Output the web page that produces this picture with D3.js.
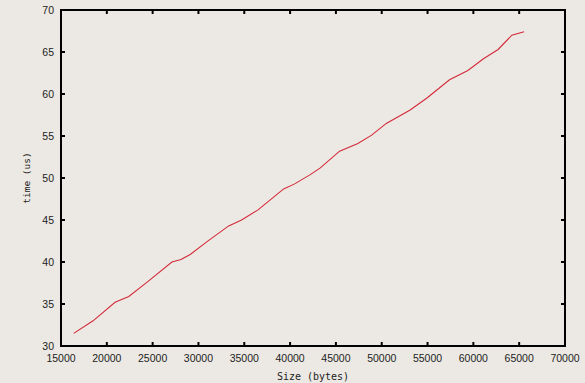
<!DOCTYPE html>
<html><head><meta charset="utf-8">
<script src="https://cdn.jsdelivr.net/npm/d3@7"></script>
<style>
html,body{margin:0;padding:0;background:#ECE9E4;}
svg{display:block;}
</style></head>
<body><svg id="c" width="585" height="383"></svg>
<script>
const sizes = [16384,18500,20900,22400,24400,27100,28100,29100,30900,33300,34700,36500,39300,40500,42200,43300,45400,47400,48900,50500,53100,54900,57400,59400,61100,62700,64200,65536];
const times = [31.5,33.0,35.2,35.9,37.6,40.0,40.3,40.9,42.4,44.3,45.0,46.2,48.7,49.3,50.4,51.2,53.2,54.1,55.1,56.5,58.1,59.5,61.7,62.8,64.2,65.3,67.0,67.4];
const xTicks = [15000,20000,25000,30000,35000,40000,45000,50000,55000,60000,65000,70000];
const yTicks = [30,35,40,45,50,55,60,65,70];
const xTitle = "Size (bytes)";
const yTitle = "time (us)";

const svg = d3.select("#c");
const L=61,R=565,T=10,B=346;
const x = d3.scaleLinear().domain([15000,70000]).range([L,R]);
const y = d3.scaleLinear().domain([30,70]).range([B,T]);

const lab = "font-family:'Liberation Sans',Arial,sans-serif;font-size:10.5px;fill:#222;";

// frame
svg.append("rect").attr("x",L).attr("y",T).attr("width",R-L).attr("height",B-T)
  .attr("fill","none").attr("stroke","#000").attr("stroke-width",2);

const tk = svg.append("g").attr("stroke","#000").attr("stroke-width",2);
xTicks.forEach(v=>{
  tk.append("line").attr("x1",x(v)).attr("x2",x(v)).attr("y1",B).attr("y2",B-4);
  tk.append("line").attr("x1",x(v)).attr("x2",x(v)).attr("y1",T).attr("y2",T+4);
});
yTicks.forEach(v=>{
  tk.append("line").attr("x1",L).attr("x2",L+4).attr("y1",y(v)).attr("y2",y(v));
  tk.append("line").attr("x1",R).attr("x2",R-4).attr("y1",y(v)).attr("y2",y(v));
});

svg.append("g").selectAll("text").data(xTicks).join("text")
  .attr("x",d=>x(d)).attr("y",B+16).attr("text-anchor","middle")
  .attr("style",lab).text(d=>d);
svg.append("g").selectAll("text").data(yTicks).join("text")
  .attr("x",L-7).attr("y",d=>y(d)+4).attr("text-anchor","end")
  .attr("style",lab).text(d=>d);

svg.append("text").attr("x",313).attr("y",380).attr("text-anchor","middle")
  .attr("style","font-family:'DejaVu Sans Mono','Liberation Mono',monospace;font-size:10px;fill:#222;")
  .text(xTitle);
svg.append("text").attr("transform","translate(30,178) rotate(-90)").attr("text-anchor","middle")
  .attr("style","font-family:'DejaVu Sans Mono','Liberation Mono',monospace;font-size:9.5px;fill:#222;")
  .text(yTitle);

const line = d3.line().x((d,i)=>x(sizes[i])).y(d=>y(d));
svg.append("path").datum(times).attr("d",line).attr("fill","none")
  .attr("stroke","#d42a3a").attr("stroke-width",1.1);
</script></body></html>
